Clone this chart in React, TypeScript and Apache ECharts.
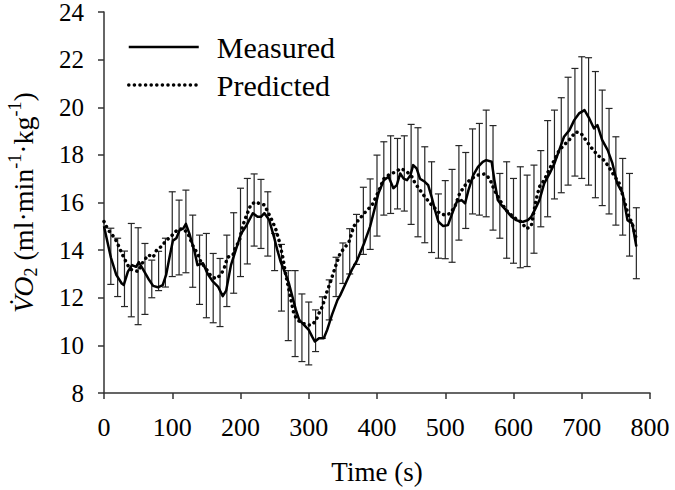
import React, { useEffect, useRef } from "react";
import * as echarts from "echarts";

// ---- Data ----
const measuredTime = [0, 10, 18, 26, 29, 35, 41, 47, 51, 57, 65, 72, 79, 86, 91, 96, 101, 106, 111, 116, 120, 125, 133, 137, 145, 152, 159, 167, 174, 179, 186, 193, 201, 208, 218, 225, 230, 235, 242, 249, 254, 259, 266, 271, 276, 281, 286, 293, 300, 305, 309, 315, 322, 327, 334, 342, 346, 354, 363, 371, 381, 390, 398, 402, 410, 417, 424, 429, 434, 439, 444, 449, 453, 458, 463, 470, 475, 480, 485, 490, 497, 504, 512, 517, 524, 529, 534, 541, 548, 555, 560, 568, 572, 577, 582, 589, 597, 604, 611, 614, 621, 626, 631, 638, 645, 653, 660, 667, 674, 682, 689, 696, 704, 711, 718, 723, 730, 738, 745, 752, 760, 767, 774, 780];
const measuredVO2 = [15.0, 13.7, 12.96, 12.6, 12.54, 13.1, 13.37, 13.3, 13.5, 13.2, 12.8, 12.5, 12.44, 12.53, 12.96, 13.7, 14.4, 14.5, 14.85, 14.9, 15.1, 14.7, 13.9, 13.37, 13.45, 13.0, 12.7, 12.47, 12.07, 12.3, 13.37, 14.0, 14.7, 15.0, 15.55, 15.4, 15.4, 15.55, 15.27, 14.56, 14.0, 13.5, 13.0, 12.6, 12.05, 11.5, 11.07, 10.86, 10.65, 10.37, 10.16, 10.3, 10.3, 10.65, 11.28, 11.9, 12.1, 12.6, 13.17, 13.58, 14.28, 15.0, 15.9, 16.38, 16.94, 17.08, 16.6, 16.73, 17.22, 17.0, 16.94, 17.15, 17.57, 17.43, 17.0, 16.87, 16.73, 16.24, 15.68, 15.19, 15.01, 15.05, 15.68, 16.03, 16.1, 15.96, 16.52, 17.15, 17.5, 17.71, 17.78, 17.71, 16.94, 16.1, 15.9, 15.68, 15.4, 15.26, 15.19, 15.19, 15.26, 15.4, 15.68, 16.1, 16.8, 17.22, 17.64, 18.2, 18.76, 19.04, 19.46, 19.74, 19.88, 19.53, 19.11, 19.25, 18.62, 18.2, 17.64, 16.8, 16.38, 15.26, 15.12, 14.15];

const predictedTime = [0, 6, 16, 21, 26, 31, 38, 43, 50, 57, 65, 72, 77, 84, 91, 99, 108, 116, 123, 130, 138, 142, 150, 157, 164, 171, 176, 181, 189, 193, 198, 203, 208, 215, 222, 227, 235, 241, 247, 252, 257, 262, 266, 270, 274, 278, 283, 291, 298, 305, 311, 315, 320, 326, 332, 339, 346, 354, 359, 366, 373, 383, 393, 402, 410, 417, 427, 435, 444, 451, 456, 463, 470, 478, 485, 492, 500, 507, 514, 521, 531, 538, 548, 558, 565, 572, 580, 589, 597, 606, 611, 619, 626, 633, 638, 645, 653, 660, 667, 674, 684, 691, 699, 706, 713, 723, 730, 738, 747, 755, 762, 769, 774, 779];
const predictedVO2 = [15.2, 14.85, 14.5, 14.2, 13.87, 13.58, 13.2, 13.16, 13.1, 13.5, 13.8, 13.7, 14.0, 14.15, 14.4, 14.6, 14.87, 14.9, 14.7, 14.2, 13.8, 13.5, 13.2, 12.9, 12.8, 12.96, 13.23, 13.7, 13.8, 14.15, 14.35, 15.0, 15.4, 15.9, 16.03, 15.96, 15.9, 15.55, 15.2, 14.85, 14.35, 13.7, 13.0, 12.47, 11.9, 11.35, 11.07, 10.93, 10.86, 10.86, 11.07, 11.35, 11.63, 12.2, 12.68, 13.3, 13.87, 14.15, 14.35, 15.0, 15.27, 15.6, 15.9, 16.45, 17.0, 17.15, 17.29, 17.43, 17.29, 17.08, 16.8, 16.52, 16.24, 15.96, 15.75, 15.54, 15.47, 15.54, 15.82, 16.38, 16.8, 17.0, 17.15, 17.2, 17.0, 16.52, 16.1, 15.68, 15.47, 15.26, 15.19, 14.9, 15.0, 16.1, 16.66, 16.94, 17.43, 17.78, 18.2, 18.41, 18.7, 18.97, 18.9, 18.62, 18.34, 17.99, 17.85, 17.57, 17.15, 16.8, 16.1, 15.4, 15.12, 14.56];

const barTime = [10, 20, 30, 40, 50, 60, 70, 80, 90, 100, 110, 120, 130, 140, 150, 160, 170, 180, 190, 200, 210, 220, 230, 240, 250, 260, 270, 280, 290, 300, 310, 320, 330, 340, 350, 360, 370, 380, 390, 400, 410, 420, 430, 440, 450, 460, 470, 480, 490, 500, 510, 520, 530, 540, 550, 560, 570, 580, 590, 600, 610, 620, 630, 640, 650, 660, 670, 680, 690, 700, 710, 720, 730, 740, 750, 760, 770, 780];
const barLow = [12.56, 12.05, 11.63, 11.2, 10.87, 11.3, 12.0, 12.3, 12.45, 12.89, 12.96, 13.05, 12.44, 11.72, 11.16, 10.95, 10.79, 11.63, 12.19, 12.89, 13.42, 14.17, 14.07, 13.75, 13.14, 11.44, 10.2, 9.53, 9.32, 9.18, 9.74, 10.3, 11.07, 12.05, 12.6, 13.0, 13.4, 13.82, 14.03, 14.59, 15.47, 15.54, 15.73, 15.64, 15.08, 14.56, 14.31, 13.9, 13.66, 13.64, 13.49, 14.42, 14.91, 15.52, 15.47, 15.4, 14.84, 14.5, 13.66, 13.45, 13.26, 13.31, 13.87, 14.98, 15.4, 16.15, 16.41, 16.73, 17.11, 17.01, 16.73, 16.2, 15.87, 15.52, 15.05, 14.63, 13.75, 12.8];
const barHigh = [14.92, 14.5, 13.96, 15.12, 14.94, 14.28, 13.58, 13.95, 14.5, 16.45, 16.1, 16.52, 15.47, 14.63, 14.7, 13.86, 13.65, 14.63, 15.57, 16.6, 17.01, 17.2, 16.97, 16.45, 14.7, 14.24, 13.14, 13.14, 12.16, 11.82, 11.49, 12.04, 12.75, 13.7, 14.3, 14.9, 15.5, 16.64, 16.99, 17.99, 18.55, 18.8, 18.69, 18.8, 19.28, 19.14, 18.34, 17.71, 16.36, 16.92, 17.39, 18.39, 18.1, 19.09, 19.32, 19.88, 19.23, 17.22, 17.71, 17.01, 17.5, 17.15, 17.57, 18.18, 19.44, 19.88, 20.4, 21.26, 21.63, 22.12, 22.08, 21.5, 20.72, 19.95, 18.76, 17.85, 17.22, 15.78];

const FONT = "Liberation Serif";
const CLEAR = "rgba(0,0,0,0)";

export default function App() {
  const ref = useRef<HTMLDivElement>(null);
  useEffect(() => {
    if (!ref.current) return;
    const chart = echarts.init(ref.current, undefined, { renderer: "svg" });
    const measured = measuredTime.map((t, i) => [t, measuredVO2[i]]);
    const predicted = predictedTime.map((t, i) => [t, predictedVO2[i]]);
    const bars = barTime.map((t, i) => [t, barLow[i], barHigh[i]]);
    chart.setOption({
      animation: false,
      backgroundColor: "#ffffff",
      textStyle: { fontFamily: FONT },
      grid: {
        left: 104,
        right: 25,
        top: 12,
        bottom: 97,
        containLabel: false,
        outerBoundsMode: "none",
      },
      legend: {
        orient: "vertical",
        left: 122,
        top: 27,
        itemWidth: 70,
        itemHeight: 30,
        itemGap: 8,
        itemStyle: { color: CLEAR, borderColor: CLEAR, borderWidth: 0 },
        textStyle: {
          fontFamily: FONT,
          fontSize: 30,
          color: "#000",
          padding: [0, 0, 0, 13],
        },
        data: [
          { name: "Measured", lineStyle: { width: 2.5 }, itemStyle: { color: CLEAR, borderColor: CLEAR, borderWidth: 0 } },
          { name: "Predicted", lineStyle: { width: 3.5 }, itemStyle: { color: CLEAR, borderColor: CLEAR, borderWidth: 0 } },
        ],
      },
      xAxis: {
        type: "value",
        min: 0,
        max: 800,
        interval: 100,
        name: "Time (s)",
        nameLocation: "middle",
        nameGap: 65,
        nameTextStyle: { fontFamily: FONT, fontSize: 27, color: "#000" },
        axisLine: { show: true, lineStyle: { color: "#333", width: 1.5 } },
        axisTick: { show: true, inside: false, length: 6, lineStyle: { color: "#333", width: 1.5 } },
        axisLabel: { fontFamily: FONT, fontSize: 26, color: "#000", margin: 23, lineHeight: 22 },
        splitLine: { show: false },
      },
      yAxis: {
        type: "value",
        min: 8,
        max: 24,
        interval: 2,
        name: "{it|V\u0307O}{sub|2}{n| (ml·min}{sup|-1}{n|·kg}{sup|-1}{n|)}",
        nameLocation: "middle",
        nameRotate: 90,
        nameGap: 64,
        nameTextStyle: {
          fontFamily: FONT,
          fontSize: 28,
          color: "#000",
          rich: {
            it: { fontFamily: FONT, fontSize: 28, fontStyle: "italic", color: "#000", lineHeight: 34 },
            n: { fontFamily: FONT, fontSize: 28, color: "#000", lineHeight: 34 },
            sub: { fontFamily: FONT, fontSize: 18, color: "#000", verticalAlign: "bottom", lineHeight: 20 },
            sup: { fontFamily: FONT, fontSize: 18, color: "#000", verticalAlign: "top", lineHeight: 20 },
          },
        },
        axisLine: { show: true, lineStyle: { color: "#333", width: 1.5 } },
        axisTick: { show: true, inside: false, length: 6, lineStyle: { color: "#333", width: 1.5 } },
        axisLabel: { fontFamily: FONT, fontSize: 25, color: "#000", margin: 20, lineHeight: 18 },
        splitLine: { show: false },
      },
      series: [
        {
          name: "SD",
          type: "custom",
          data: bars,
          encode: { x: 0, y: [1, 2] },
          z: 1,
          silent: true,
          renderItem: (params: any, api: any) => {
            const x = api.value(0);
            const lo = api.coord([x, api.value(1)]);
            const hi = api.coord([x, api.value(2)]);
            const hw = 3.5;
            const style = { stroke: "#262626", lineWidth: 1.2 };
            return {
              type: "group",
              children: [
                { type: "line", shape: { x1: lo[0], y1: lo[1], x2: hi[0], y2: hi[1] }, style },
                { type: "line", shape: { x1: lo[0] - hw, y1: lo[1], x2: lo[0] + hw, y2: lo[1] }, style },
                { type: "line", shape: { x1: hi[0] - hw, y1: hi[1], x2: hi[0] + hw, y2: hi[1] }, style },
              ],
            };
          },
        },
        {
          name: "Measured",
          type: "line",
          data: measured,
          symbol: "none",
          z: 3,
          lineStyle: { color: "#000", width: 2.5, join: "round" },
          itemStyle: { color: "#000" },
        },
        {
          name: "Predicted",
          type: "line",
          data: predicted,
          symbol: "none",
          z: 2,
          lineStyle: { color: "#000", width: 3.5, type: [0.1, 5.5], cap: "round" },
          itemStyle: { color: "#000" },
        },
      ],
    });
    return () => chart.dispose();
  }, []);
  return (
    <div
      ref={ref}
      style={{ position: "absolute", left: 0, top: 0, width: 675, height: 490, background: "#fff" }}
    />
  );
}
